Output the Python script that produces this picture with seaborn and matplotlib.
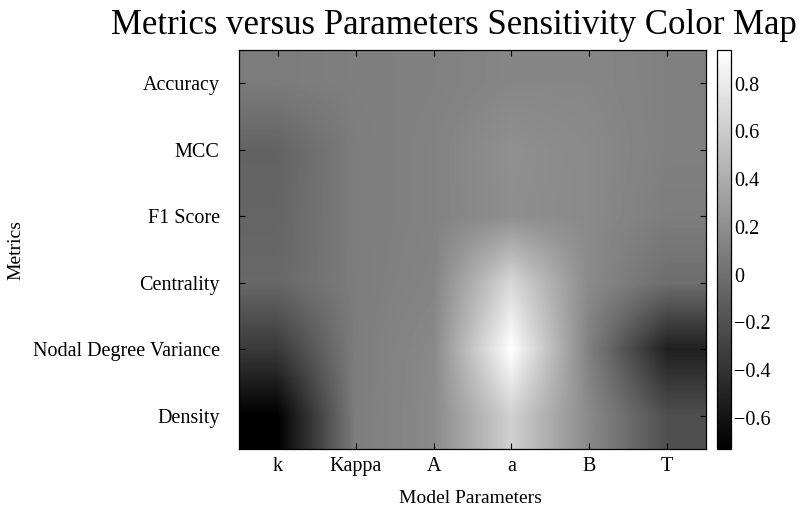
import numpy as np
import matplotlib
matplotlib.use('Agg')
import matplotlib.pyplot as plt
from matplotlib.ticker import FuncFormatter
import seaborn as sns

# model parameters (columns) and metrics (rows)
params = ['k', 'Kappa', 'A', 'a', 'B', 'T']
metrics = ['Accuracy', 'MCC', 'F1 Score', 'Centrality', 'Nodal Degree Variance', 'Density']

# sensitivity values, one list per metric, in the order of params
accuracy = [0.08, 0.10, 0.11, 0.15, 0.15, 0.11]
mcc = [-0.08, 0.09, 0.12, 0.21, 0.17, 0.11]
f1_score = [-0.07, 0.09, 0.12, 0.20, 0.17, 0.09]
centrality = [-0.05, 0.09, 0.13, 0.68, 0.17, -0.01]
nodal_var = [-0.35, 0.09, 0.16, 0.94, 0.11, -0.52]
density = [-0.73, 0.09, 0.17, 0.63, 0.17, -0.21]

cbar_ticks = [-0.6, -0.4, -0.2, 0, 0.2, 0.4, 0.6, 0.8]

sns.set_theme(style='ticks')
plt.rcParams['font.family'] = ['Liberation Serif', 'DejaVu Serif']
plt.rcParams['axes.unicode_minus'] = True
plt.rcParams['text.color'] = 'black'

data = np.array([accuracy, mcc, f1_score, centrality, nodal_var, density])

fig = plt.figure(figsize=(8, 5.14), dpi=100)
ax = fig.add_axes([0.299, 0.1265, 0.5835, 0.776])
cax = fig.add_axes([0.896, 0.1265, 0.018, 0.776])

im = ax.imshow(data, cmap='gray', aspect='auto', interpolation='bilinear')

ax.set_xticks(range(len(params)), params)
ax.set_yticks(range(len(metrics)), metrics)
ax.tick_params(axis='both', direction='in', top=True, right=True, length=4,
               width=0.8, colors='black', labelsize=14.5)
ax.tick_params(axis='y', pad=14)
ax.tick_params(axis='x', pad=6)
for sp in ax.spines.values():
    sp.set_color('black')
    sp.set_linewidth(0.9)

cb = fig.colorbar(im, cax=cax)
cb.set_ticks(cbar_ticks)
cb.ax.yaxis.set_major_formatter(FuncFormatter(lambda v, _: ('%g' % round(v, 2)).replace('-', '\u2212')))
cax.tick_params(direction='in', length=3, width=0.8, colors='black', labelsize=14.5, pad=2)
cb.outline.set_edgecolor('black')
cb.outline.set_linewidth(0.9)

fig.text(0.5675, 0.951, 'Metrics versus Parameters Sensitivity Color Map',
         ha='center', va='center', fontsize=25, color='black')
fig.text(0.02, 0.514, 'Metrics', rotation=90, ha='center', va='center',
         fontsize=14, color='black')
fig.text(0.5875, 0.031, 'Model Parameters', ha='center', va='center',
         fontsize=14, color='black')

fig.savefig('out.png', dpi=100)
